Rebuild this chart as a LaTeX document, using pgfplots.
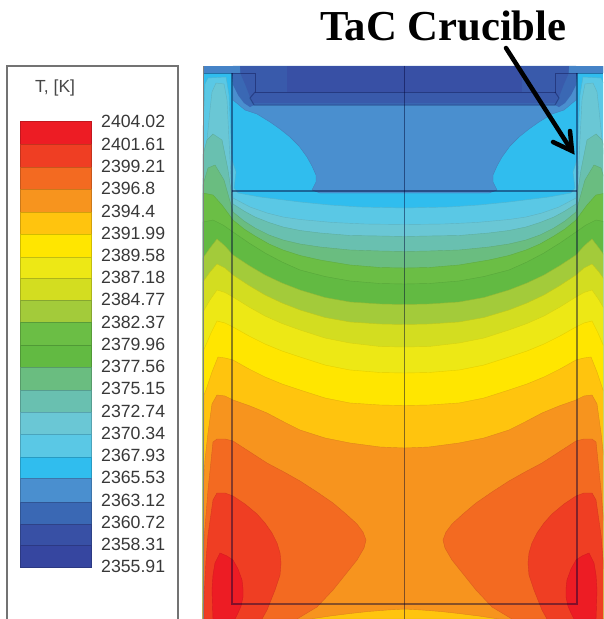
\documentclass[border=0pt]{standalone}
\usepackage{fontspec}
\setmainfont{Liberation Sans}
\newfontfamily\tnr{Liberation Serif}
\usepackage{pgfplots}
\usepackage{pgfplotstable}
\pgfplotsset{compat=1.18}
\definecolor{c1}{HTML}{ED1C24}
\definecolor{c2}{HTML}{EF3E23}
\definecolor{c3}{HTML}{F36A21}
\definecolor{c4}{HTML}{F7941E}
\definecolor{c5}{HTML}{FFC40E}
\definecolor{c6}{HTML}{FFE600}
\definecolor{c7}{HTML}{EDE815}
\definecolor{c8}{HTML}{D3DD20}
\definecolor{c9}{HTML}{A3CB3A}
\definecolor{c10}{HTML}{6BBE45}
\definecolor{c11}{HTML}{62BA42}
\definecolor{c12}{HTML}{6ABD80}
\definecolor{c13}{HTML}{69C0B0}
\definecolor{c14}{HTML}{6AC7D5}
\definecolor{c15}{HTML}{5AC8E5}
\definecolor{c16}{HTML}{30BDEE}
\definecolor{c17}{HTML}{4A8FCF}
\definecolor{c18}{HTML}{3A68B4}
\definecolor{c19}{HTML}{3850A5}
\definecolor{c20}{HTML}{3646A0}
\pgfplotstableread{
x y
205 84
208 78
226 77
229 95
231 140
232 160
236 172
234 188
238 193
260 197
300 202
330 205
360 207
404.5 208
404.5 619
203 619
203 130
}\tA
\pgfplotstableread{
x y
212 92
216 83
224 84
227 100
229 140
231 180
233 198
250 207
267 213
283 217
300 219.5
333 222.5
365 224
404.5 224.5
404.5 619
203 619
203 180
207 140
210 110
}\tB
\pgfplotstableread{
x y
203 155
207 140
213 134
222 140
228 170
233 204
244 211
255 217
269 222.5
283 227
300 230.5
320 233
350 235.5
380 236
404.5 236.5
404.5 619
203 619
}\tC
\pgfplotstableread{
x y
203 185
208 168
215 165
224 180
233 212
244 221
255 228
269 235
283 240
300 244
320 247
350 250
380 251
404.5 251.5
404.5 619
203 619
}\tD
\pgfplotstableread{
x y
203 193
213 195
222 205
233 220
244 229
255 236
269 244
283 250
300 255.5
320 260
350 265
380 267.5
404.5 268
404.5 619
203 619
}\tE
\pgfplotstableread{
x y
203 222
213 220
223 225
233 232
249 243
265 253
282 262
300 270
325 276.5
350 281
380 283.5
404.5 284
404.5 619
203 619
}\tF
\pgfplotstableread{
x y
203 258
210 248
217 239
225 246
233 255
249 265.5
265 275
282 283
300 290
325 297.5
350 302
380 304
404.5 304.5
404.5 619
203 619
}\tG
\pgfplotstableread{
x y
203 282
210 272
217 264
225 268
233 275
249 285.5
265 295
282 303
300 310
325 317.5
350 322
380 324
404.5 324.5
404.5 619
203 619
}\tH
\pgfplotstableread{
x y
203 312
210 300
217 290
225 292.5
233 297
249 307
265 316
282 323.5
300 330
325 338
350 343
380 346.5
404.5 347
404.5 619
203 619
}\tI
\pgfplotstableread{
x y
203 352
205 347
211 333
217 321
225 323
233 327
249 336
265 344
282 351
300 357
325 365
350 370
380 372.5
404.5 373
404.5 619
203 619
}\tJ
\pgfplotstableread{
x y
204 395
206 390
212 372
218 357
225 358
233 360
249 369
265 377
282 384
300 390
325 398
350 403
380 405
404.5 405.5
404.5 619
203 619
}\tK
\pgfplotstableread{
x y
203 493
205 460
208 433
212 404
217 395
225 396
233 400
250 406
267 413
284 422
300 430
325 438
350 443
380 447
404.5 448
404.5 609
387 610
368 611.5
350 613.5
330 616
310 619
203 619
}\tL
\pgfplotstableread{
x y
204 540
208 490
213 442
217 439
225 439
233 441
250 452
267 463
284 472
300 481
317 492
333 503
346 514
357 524
363 532
366 540
364 548
357 560
345 575
333 590
317 607
297 619
203 619
}\tM
\pgfplotstableread{
x y
204 600
206 560
208 535
213 500
217 493
225 493
233 496
245 504
257 514
265 523
272 533
277 543
280 553
281 563
280 575
275 590
267 610
262 619
204 619
}\tN
\pgfplotstableread{
x y
213 619
212 590
213 575
215 563
220 553
227 556
233 560
238 569
242 580
243 589
243 597
241 606
238 613
235 619
}\tO
\pgfplotstableread{
x y
233 100
245 110
257 114
270 122
280 129
290 137
299 146
307 157
312 166
316 175
316 182
312 190
320 193
404.5 193
404.5 66
233 66
}\tP
\pgfplotstableread{
x y
203 66
404.5 66
404.5 105
254 105
250 107
244 103
238 95
233 85
232 73
203 73
}\tQ
\pgfplotstableread{
x y
240 66
404.5 66
404.5 103
253 103
250 97
245 84
241 75
}\tR
\pgfplotstableread{
x y
287 66
404.5 66
404.5 92
287 92
}\tS
\pgfplotstableread{
x y
203 66
240 66
240 73
203 73
}\tT
\newcommand{\band}[2]{%
  \addplot[fill=#1,draw=#1!90!black,line width=0.4pt] table[x=x,y=y]{#2} --cycle;
  \addplot[fill=#1,draw=#1!90!black,line width=0.4pt] table[x expr=809-\thisrow{x},y=y]{#2} --cycle;
}
\newcommand{\bandS}[2]{%
  \addplot[fill=#1,draw=none] table[x=x,y=y]{#2} --cycle;
  \addplot[fill=#1,draw=none] table[x expr=809-\thisrow{x},y=y]{#2} --cycle;
}
\newcommand{\leg}[3]{%
  \addplot[fill=#1,draw=#1!82!black,line width=0.5pt] coordinates {(20,#2) (91,#2) (91,#3) (20,#3)} --cycle;
}
\newcommand{\lab}[2]{\node[anchor=west,inner sep=0pt,text=black!78,font=\fontsize{17.7}{20}\selectfont] at (axis cs:101,#1) {#2};}
\begin{document}
\begin{tikzpicture}
\useasboundingbox (0,0) rectangle (603pt,619pt);
\begin{axis}[
  at={(0,0)},anchor=south west,
  width=603pt,height=619pt,scale only axis,
  xmin=0,xmax=603,ymin=0,ymax=619,y dir=reverse,
  axis lines=none,ticks=none,
]
% contour base
\addplot[fill=c16,draw=none] coordinates {(203,66) (603,66) (603,619) (203,619)} --cycle;
\band{c15}{\tA}
\band{c14}{\tB}
\band{c13}{\tC}
\band{c12}{\tD}
\band{c10}{\tE}
\band{c11}{\tF}
\band{c9}{\tG}
\band{c8}{\tH}
\band{c7}{\tI}
\band{c6}{\tJ}
\band{c5}{\tK}
\band{c4}{\tL}
\band{c3}{\tM}
\band{c2}{\tN}
\band{c1}{\tO}
\band{c17}{\tP}
\bandS{c18}{\tQ}
\bandS{c19!60!c18}{\tR}
\bandS{c19}{\tS}
\bandS{c17!70!c18}{\tT}
% geometry lines
\addplot[draw=black!80!blue,opacity=.45,line width=1.2pt] coordinates {(404.5,66) (404.5,619)};
\addplot[draw=black!80!blue,opacity=.45,line width=1.2pt] coordinates {(232,73) (232,604) (577,604) (577,73)};
\addplot[draw=black!80!blue,opacity=.45,line width=1.2pt] coordinates {(232,191) (577,191)};
\addplot[draw=black!80!blue,opacity=.35,line width=1pt] coordinates {(203,73) (255,73) (255,92) (555,92) (555,73) (603,73)};
\addplot[draw=black!80!blue,opacity=.3,line width=1pt] coordinates {(255,92) (250,98) (254,105) (555,105) (559,98) (555,92)};
\addplot[draw=black!50,line width=.8pt] coordinates {(203,66) (203,619)};
% legend frame
\addplot[draw=black!55,line width=1.6pt] coordinates {(7,619) (7,66) (178,66) (178,619)};
% legend bar
\leg{c1}{121}{144}
\leg{c2}{144}{167}
\leg{c3}{167}{189}
\leg{c4}{189}{212}
\leg{c5}{212}{234}
\leg{c6}{234}{257}
\leg{c7}{257}{278}
\leg{c8}{278}{300}
\leg{c9}{300}{322}
\leg{c10}{322}{345}
\leg{c11}{345}{367}
\leg{c12}{367}{390}
\leg{c13}{390}{412}
\leg{c14}{412}{434}
\leg{c15}{434}{457}
\leg{c16}{457}{478}
\leg{c17}{478}{502}
\leg{c18}{502}{524}
\leg{c19}{524}{545}
\leg{c20}{545}{567}
\lab{121.5}{2404.02}
\lab{144}{2401.61}
\lab{166}{2399.21}
\lab{188.5}{2396.8}
\lab{211}{2394.4}
\lab{233}{2391.99}
\lab{255.5}{2389.58}
\lab{277.5}{2387.18}
\lab{299.5}{2384.77}
\lab{322}{2382.37}
\lab{344.5}{2379.96}
\lab{366.5}{2377.56}
\lab{388.5}{2375.15}
\lab{411}{2372.74}
\lab{433}{2370.34}
\lab{455.5}{2367.93}
\lab{477.5}{2365.53}
\lab{500}{2363.12}
\lab{522}{2360.72}
\lab{544}{2358.31}
\lab{566.5}{2355.91}
\node[anchor=west,inner sep=0pt,text=black!72,font=\fontsize{17.5}{20}\selectfont] at (axis cs:35,88) {T, [K]};
\node[anchor=base west,inner sep=0pt,font=\tnr\bfseries\fontsize{42.7}{44}\selectfont] at (axis cs:320,40.5) {TaC Crucible};
% arrow
\addplot[draw=black,line width=4.5pt,line cap=round] coordinates {(506,48) (570,148)};
\addplot[draw=black,line width=4.5pt,line cap=round,line join=miter] coordinates {(553,142) (572,151) (570,131)};
\end{axis}
\end{tikzpicture}
\end{document}
